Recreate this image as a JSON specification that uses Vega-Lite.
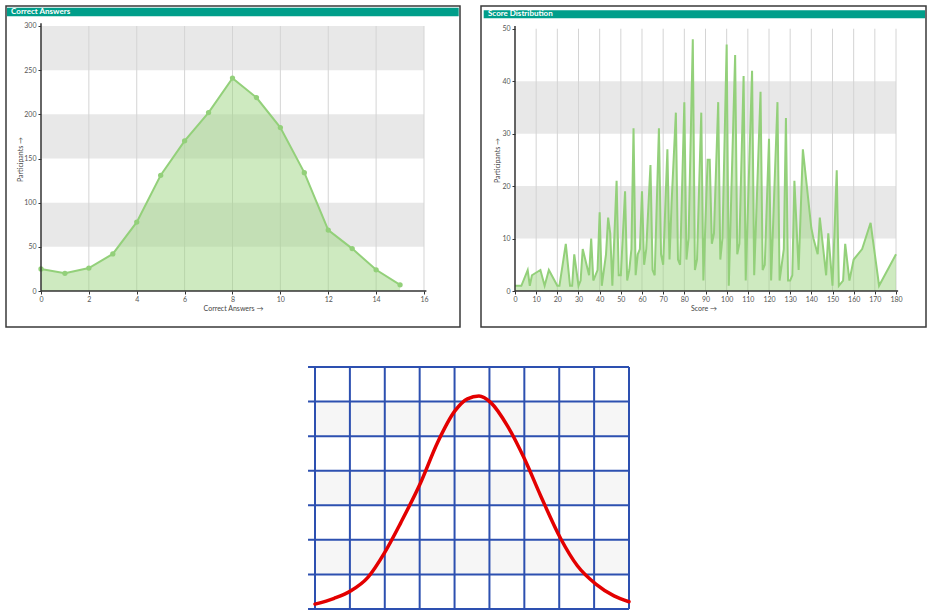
{
  "$schema": "https://vega.github.io/schema/vega-lite/v6.json",
  "padding": {"left": 5, "top": 5, "right": 0, "bottom": 0},
  "bounds": "full",
  "spacing": 38,
  "config": {
    "view": {"stroke": null},
    "font": "Lato",
    "axis": {"labelFontSize": 7, "labelColor": "#555", "titleFontSize": 7, "titleFontWeight": "normal", "titleColor": "#444", "tickColor": "#333", "tickSize": 3, "grid": false, "domain": false, "labelFlush": false, "labelOverlap": false}
  },
  "datasets": {
    "answers": [
      {"c": 0, "n": 25}, {"c": 1, "n": 20}, {"c": 2, "n": 26}, {"c": 3, "n": 42},
      {"c": 4, "n": 78}, {"c": 5, "n": 131}, {"c": 6, "n": 170}, {"c": 7, "n": 202},
      {"c": 8, "n": 241}, {"c": 9, "n": 219}, {"c": 10, "n": 185}, {"c": 11, "n": 134},
      {"c": 12, "n": 69}, {"c": 13, "n": 48}, {"c": 14, "n": 24}, {"c": 15, "n": 7}
    ],
    "scores": [
      {"s": 0, "p": 1}, {"s": 3, "p": 1}, {"s": 6, "p": 4}, {"s": 7, "p": 1}, {"s": 8, "p": 3},
      {"s": 12, "p": 4}, {"s": 14, "p": 1}, {"s": 16, "p": 4}, {"s": 20, "p": 1}, {"s": 21, "p": 1},
      {"s": 24, "p": 9}, {"s": 26, "p": 1}, {"s": 27, "p": 1}, {"s": 28, "p": 7}, {"s": 30, "p": 1},
      {"s": 31, "p": 2}, {"s": 32, "p": 8}, {"s": 35, "p": 3}, {"s": 36, "p": 10}, {"s": 37, "p": 2},
      {"s": 39, "p": 4}, {"s": 40, "p": 15}, {"s": 41, "p": 1}, {"s": 43, "p": 7}, {"s": 44, "p": 14},
      {"s": 45, "p": 11}, {"s": 46, "p": 1}, {"s": 48, "p": 21}, {"s": 49, "p": 3}, {"s": 50, "p": 3},
      {"s": 52, "p": 19}, {"s": 53, "p": 2}, {"s": 54, "p": 4}, {"s": 55, "p": 8}, {"s": 56, "p": 31},
      {"s": 57, "p": 3}, {"s": 58, "p": 7}, {"s": 59, "p": 8}, {"s": 60, "p": 19}, {"s": 61, "p": 5},
      {"s": 62, "p": 8}, {"s": 64, "p": 24}, {"s": 65, "p": 4}, {"s": 66, "p": 3}, {"s": 68, "p": 31},
      {"s": 69, "p": 7}, {"s": 70, "p": 5}, {"s": 72, "p": 27}, {"s": 73, "p": 6}, {"s": 74, "p": 17},
      {"s": 76, "p": 34}, {"s": 77, "p": 6}, {"s": 78, "p": 5}, {"s": 80, "p": 36}, {"s": 81, "p": 6},
      {"s": 82, "p": 10}, {"s": 84, "p": 48}, {"s": 85, "p": 4}, {"s": 86, "p": 6}, {"s": 88, "p": 34},
      {"s": 89, "p": 2}, {"s": 91, "p": 25}, {"s": 92, "p": 25}, {"s": 93, "p": 9}, {"s": 94, "p": 11},
      {"s": 96, "p": 36}, {"s": 97, "p": 6}, {"s": 98, "p": 10}, {"s": 100, "p": 47}, {"s": 101, "p": 1},
      {"s": 104, "p": 45}, {"s": 105, "p": 7}, {"s": 106, "p": 9}, {"s": 108, "p": 41}, {"s": 109, "p": 2},
      {"s": 112, "p": 42}, {"s": 113, "p": 3}, {"s": 116, "p": 38}, {"s": 117, "p": 4}, {"s": 118, "p": 5},
      {"s": 120, "p": 29}, {"s": 121, "p": 2}, {"s": 124, "p": 36}, {"s": 125, "p": 2}, {"s": 127, "p": 8},
      {"s": 128, "p": 33}, {"s": 129, "p": 2}, {"s": 130, "p": 2}, {"s": 131, "p": 3}, {"s": 132, "p": 21},
      {"s": 134, "p": 4}, {"s": 136, "p": 27}, {"s": 140, "p": 12}, {"s": 141, "p": 10}, {"s": 143, "p": 7},
      {"s": 144, "p": 14}, {"s": 147, "p": 3}, {"s": 148, "p": 11}, {"s": 150, "p": 1}, {"s": 152, "p": 23},
      {"s": 153, "p": 1}, {"s": 155, "p": 2}, {"s": 156, "p": 9}, {"s": 158, "p": 2}, {"s": 160, "p": 6},
      {"s": 164, "p": 8}, {"s": 168, "p": 13}, {"s": 172, "p": 1}, {"s": 180, "p": 7}
    ],
    "curve": [
      {"u": 0, "v": 0.14}, {"u": 0.55, "v": 0.31}, {"u": 1.03, "v": 0.53}, {"u": 1.51, "v": 0.91},
      {"u": 2.0, "v": 1.64}, {"u": 2.46, "v": 2.5}, {"u": 3.03, "v": 3.66}, {"u": 3.51, "v": 4.81},
      {"u": 4.01, "v": 5.73}, {"u": 4.37, "v": 6.08}, {"u": 4.7, "v": 6.16}, {"u": 5.04, "v": 5.97},
      {"u": 5.52, "v": 5.29}, {"u": 6.01, "v": 4.33}, {"u": 6.47, "v": 3.27}, {"u": 7.04, "v": 2.04},
      {"u": 7.52, "v": 1.25}, {"u": 8.05, "v": 0.72}, {"u": 8.57, "v": 0.38}, {"u": 9.0, "v": 0.21}
    ]
  },
  "vconcat": [
    {
      "hconcat": [
        {
          "width": 454, "height": 321,
          "view": {"stroke": "#3a3a3a", "strokeWidth": 1.5},
          "layer": [
            {
              "data": {"values": [{"a": 50, "b": 100}, {"a": 150, "b": 200}, {"a": 250, "b": 300}]},
              "mark": {"type": "rect", "fill": "#e8e8e8"},
              "encoding": {
                "x": {"datum": 0, "type": "quantitative", "scale": {"domain": [-1.462, 17.504], "nice": false, "zero": false},
                  "axis": {"values": [0, 2, 4, 6, 8, 10, 12, 14, 16], "tickCount": 20, "offset": -36, "title": "Correct Answers →", "titlePadding": 2, "labelPadding": 1, "labelOverlap": false}},
                "x2": {"datum": 16},
                "y": {"field": "a", "type": "quantitative", "scale": {"domain": [-40.75, 322.64], "nice": false, "zero": false},
                  "axis": {"values": [0, 50, 100, 150, 200, 250, 300], "tickCount": 20, "offset": -35, "title": "Participants →", "titleY": 153, "titlePadding": 0, "labelOverlap": false}},
                "y2": {"field": "b"}
              }
            },
            {
              "data": {"values": [{"g": 2}, {"g": 4}, {"g": 6}, {"g": 8}, {"g": 10}, {"g": 12}, {"g": 14}, {"g": 16}]},
              "mark": {"type": "rule", "stroke": "#d4d4d4", "strokeWidth": 1},
              "encoding": {
                "x": {"field": "g", "type": "quantitative", "scale": {"domain": [-1.462, 17.504], "nice": false, "zero": false}},
                "y": {"datum": 0, "type": "quantitative", "scale": {"domain": [-40.75, 322.64], "nice": false, "zero": false}},
                "y2": {"datum": 300}
              }
            },
            {
              "data": {"name": "answers"},
              "mark": {"type": "area", "fill": "#9ed682", "fillOpacity": 0.5},
              "encoding": {
                "x": {"field": "c", "type": "quantitative", "scale": {"domain": [-1.462, 17.504], "nice": false, "zero": false}},
                "y": {"field": "n", "type": "quantitative", "scale": {"domain": [-40.75, 322.64], "nice": false, "zero": false}}
              }
            },
            {
              "data": {"name": "answers"},
              "mark": {"type": "line", "stroke": "#93d07a", "strokeWidth": 2},
              "encoding": {
                "x": {"field": "c", "type": "quantitative", "scale": {"domain": [-1.462, 17.504], "nice": false, "zero": false}},
                "y": {"field": "n", "type": "quantitative", "scale": {"domain": [-40.75, 322.64], "nice": false, "zero": false}}
              }
            },
            {
              "data": {"name": "answers"},
              "mark": {"type": "circle", "fill": "#93d07a", "opacity": 1, "size": 28},
              "encoding": {
                "x": {"field": "c", "type": "quantitative", "scale": {"domain": [-1.462, 17.504], "nice": false, "zero": false}},
                "y": {"field": "n", "type": "quantitative", "scale": {"domain": [-40.75, 322.64], "nice": false, "zero": false}}
              }
            },
            {
              "data": {"values": [{}]},
              "mark": {"type": "rule", "stroke": "#333", "strokeWidth": 1.5},
              "encoding": {
                "x": {"datum": 0, "type": "quantitative", "scale": {"domain": [-1.462, 17.504], "nice": false, "zero": false}},
                "y": {"datum": 0, "type": "quantitative", "scale": {"domain": [-40.75, 322.64], "nice": false, "zero": false}},
                "y2": {"datum": 303}
              }
            },
            {
              "data": {"values": [{}]},
              "mark": {"type": "rule", "stroke": "#333", "strokeWidth": 1.5},
              "encoding": {
                "x": {"datum": 0, "type": "quantitative", "scale": {"domain": [-1.462, 17.504], "nice": false, "zero": false}},
                "x2": {"datum": 16.1},
                "y": {"datum": 0, "type": "quantitative", "scale": {"domain": [-40.75, 322.64], "nice": false, "zero": false}}
              }
            },
            {
              "data": {"values": [{}]},
              "mark": {"type": "rect", "fill": "#009e8a"},
              "encoding": {
                "x": {"datum": -1.42, "type": "quantitative", "scale": {"domain": [-1.462, 17.504], "nice": false, "zero": false}},
                "x2": {"datum": 17.45},
                "y": {"datum": 311.0, "type": "quantitative", "scale": {"domain": [-40.75, 322.64], "nice": false, "zero": false}},
                "y2": {"datum": 320.7}
              }
            },
            {
              "data": {"values": [{}]},
              "mark": {"type": "text", "text": "Correct Answers", "fill": "#ffffff", "fontSize": 8, "fontWeight": "bold", "align": "left", "baseline": "middle"},
              "encoding": {
                "x": {"datum": -1.25, "type": "quantitative", "scale": {"domain": [-1.462, 17.504], "nice": false, "zero": false}},
                "y": {"datum": 316.0, "type": "quantitative", "scale": {"domain": [-40.75, 322.64], "nice": false, "zero": false}}
              }
            }
          ]
        },
        {
          "width": 445, "height": 321,
          "view": {"stroke": "#3a3a3a", "strokeWidth": 1.5},
          "layer": [
            {
              "data": {"values": [{"a": 10, "b": 20}, {"a": 30, "b": 40}]},
              "mark": {"type": "rect", "fill": "#e8e8e8"},
              "encoding": {
                "x": {"datum": 0, "type": "quantitative", "scale": {"domain": [-16.06, 194.17], "nice": false, "zero": false},
                  "axis": {"values": [0, 10, 20, 30, 40, 50, 60, 70, 80, 90, 100, 110, 120, 130, 140, 150, 160, 170, 180], "tickCount": 40, "offset": -36, "title": "Score →", "titlePadding": 2, "labelPadding": 1, "labelOverlap": false}},
                "x2": {"datum": 180},
                "y": {"field": "a", "type": "quantitative", "scale": {"domain": [-6.862, 54.33], "nice": false, "zero": false},
                  "axis": {"values": [0, 10, 20, 30, 40, 50], "tickCount": 20, "offset": -34, "title": "Participants →", "titleY": 154, "titlePadding": 1, "labelOverlap": false}},
                "y2": {"field": "b"}
              }
            },
            {
              "data": {"values": [{"g": 10}, {"g": 20}, {"g": 30}, {"g": 40}, {"g": 50}, {"g": 60}, {"g": 70}, {"g": 80}, {"g": 90}, {"g": 100}, {"g": 110}, {"g": 120}, {"g": 130}, {"g": 140}, {"g": 150}, {"g": 160}, {"g": 170}, {"g": 180}]},
              "mark": {"type": "rule", "stroke": "#d4d4d4", "strokeWidth": 1},
              "encoding": {
                "x": {"field": "g", "type": "quantitative", "scale": {"domain": [-16.06, 194.17], "nice": false, "zero": false}},
                "y": {"datum": 0, "type": "quantitative", "scale": {"domain": [-6.862, 54.33], "nice": false, "zero": false}},
                "y2": {"datum": 50}
              }
            },
            {
              "data": {"name": "scores"},
              "mark": {"type": "area", "fill": "#9ed682", "fillOpacity": 0.5},
              "encoding": {
                "x": {"field": "s", "type": "quantitative", "scale": {"domain": [-16.06, 194.17], "nice": false, "zero": false}},
                "y": {"field": "p", "type": "quantitative", "scale": {"domain": [-6.862, 54.33], "nice": false, "zero": false}}
              }
            },
            {
              "data": {"name": "scores"},
              "mark": {"type": "line", "stroke": "#93d07a", "strokeWidth": 2},
              "encoding": {
                "x": {"field": "s", "type": "quantitative", "scale": {"domain": [-16.06, 194.17], "nice": false, "zero": false}},
                "y": {"field": "p", "type": "quantitative", "scale": {"domain": [-6.862, 54.33], "nice": false, "zero": false}}
              }
            },
            {
              "data": {"values": [{}]},
              "mark": {"type": "rule", "stroke": "#333", "strokeWidth": 1.5},
              "encoding": {
                "x": {"datum": 0, "type": "quantitative", "scale": {"domain": [-16.06, 194.17], "nice": false, "zero": false}},
                "y": {"datum": 0, "type": "quantitative", "scale": {"domain": [-6.862, 54.33], "nice": false, "zero": false}},
                "y2": {"datum": 50.5}
              }
            },
            {
              "data": {"values": [{}]},
              "mark": {"type": "rule", "stroke": "#333", "strokeWidth": 1.5},
              "encoding": {
                "x": {"datum": 0, "type": "quantitative", "scale": {"domain": [-16.06, 194.17], "nice": false, "zero": false}},
                "x2": {"datum": 181},
                "y": {"datum": 0, "type": "quantitative", "scale": {"domain": [-6.862, 54.33], "nice": false, "zero": false}}
              }
            },
            {
              "data": {"values": [{}]},
              "mark": {"type": "rect", "fill": "#009e8a"},
              "encoding": {
                "x": {"datum": -14.79, "type": "quantitative", "scale": {"domain": [-16.06, 194.17], "nice": false, "zero": false}},
                "x2": {"datum": 193.7},
                "y": {"datum": 51.98, "type": "quantitative", "scale": {"domain": [-6.862, 54.33], "nice": false, "zero": false}},
                "y2": {"datum": 53.51}
              }
            },
            {
              "data": {"values": [{}]},
              "mark": {"type": "text", "text": "Score Distribution", "fill": "#ffffff", "fontSize": 8, "fontWeight": "bold", "align": "left", "baseline": "middle"},
              "encoding": {
                "x": {"datum": -12.76, "type": "quantitative", "scale": {"domain": [-16.06, 194.17], "nice": false, "zero": false}},
                "y": {"datum": 52.75, "type": "quantitative", "scale": {"domain": [-6.862, 54.33], "nice": false, "zero": false}}
              }
            }
          ]
        }
      ],
      "spacing": 21,
      "bounds": "flush"
    },
    {
      "hconcat": [
        {
          "width": 309, "height": 10,
          "data": {"values": []},
          "mark": "point"
        },
        {
          "width": 314, "height": 242,
          "layer": [
            {
              "data": {"values": [{"a": 1, "b": 2}, {"a": 3, "b": 4}, {"a": 5, "b": 6}]},
              "mark": {"type": "rect", "fill": "#f6f6f6"},
              "encoding": {
                "x": {"datum": 0, "type": "quantitative", "scale": {"domain": [0, 9], "nice": false, "zero": false}, "axis": null},
                "x2": {"datum": 9},
                "y": {"field": "a", "type": "quantitative", "scale": {"domain": [0, 7], "nice": false, "zero": false}, "axis": null},
                "y2": {"field": "b"}
              }
            },
            {
              "data": {"values": [{"k": 0}, {"k": 1}, {"k": 2}, {"k": 3}, {"k": 4}, {"k": 5}, {"k": 6}, {"k": 7}, {"k": 8}, {"k": 9}]},
              "mark": {"type": "rule", "stroke": "#2d50b0", "strokeWidth": 2},
              "encoding": {
                "x": {"field": "k", "type": "quantitative", "scale": {"domain": [0, 9], "nice": false, "zero": false}},
                "y": {"datum": 0, "type": "quantitative", "scale": {"domain": [0, 7], "nice": false, "zero": false}},
                "y2": {"datum": 7}
              }
            },
            {
              "data": {"values": [{"k": 0}, {"k": 1}, {"k": 2}, {"k": 3}, {"k": 4}, {"k": 5}, {"k": 6}, {"k": 7}]},
              "mark": {"type": "rule", "stroke": "#2d50b0", "strokeWidth": 2},
              "encoding": {
                "y": {"field": "k", "type": "quantitative", "scale": {"domain": [0, 7], "nice": false, "zero": false}},
                "x": {"datum": -0.2, "type": "quantitative", "scale": {"domain": [0, 9], "nice": false, "zero": false}},
                "x2": {"datum": 9}
              }
            },
            {
              "data": {"name": "curve"},
              "mark": {"type": "line", "stroke": "#e30000", "strokeWidth": 3.5, "interpolate": "monotone", "strokeCap": "round"},
              "encoding": {
                "x": {"field": "u", "type": "quantitative", "scale": {"domain": [0, 9], "nice": false, "zero": false}},
                "y": {"field": "v", "type": "quantitative", "scale": {"domain": [0, 7], "nice": false, "zero": false}}
              }
            }
          ]
        }
      ],
      "spacing": 0,
      "bounds": "flush"
    }
  ]
}
